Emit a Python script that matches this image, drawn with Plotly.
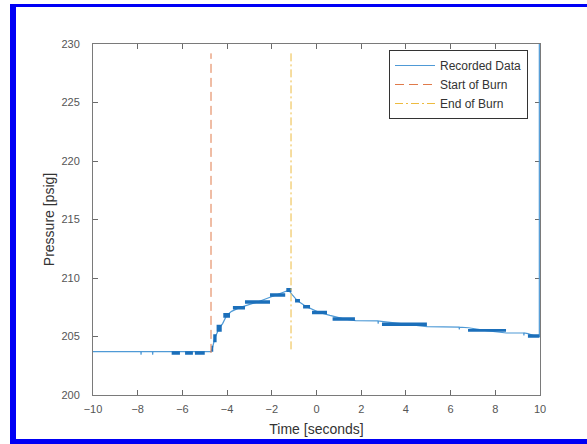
import plotly.graph_objects as go

# ---------------- data ----------------
# Recorded pressure trace (thin line through the step levels)
rec_t = [-10, -7.86, -7.85, -7.84, -7.34, -7.33, -7.32, -4.72, -4.66, -4.55, -4.36,
         -4.20, -4.02, -3.80, -3.47, -2.64, -1.74, -1.24, -1.10, -0.85, -0.45,
         0.13, 0.60, 1.22, 1.75, 2.75, 2.76, 2.77, 2.90, 3.90, 4.95, 6.38, 6.39,
         6.40, 6.80, 7.60, 8.50, 9.27, 9.28, 9.29, 9.46, 9.75, 9.97, 9.97]
rec_p = [203.7, 203.7, 203.45, 203.7, 203.7, 203.45, 203.7, 203.7, 204.0, 204.85,
         205.7, 206.1, 206.8, 207.15, 207.45, 207.95, 208.55, 208.95, 208.6, 208.05,
         207.55, 207.05, 206.8, 206.5, 206.35, 206.33, 206.1, 206.33, 206.3, 206.05,
         205.85, 205.8, 205.6, 205.8, 205.75, 205.5, 205.3, 205.3, 205.1, 205.3,
         205.25, 205.05, 205.0, 236.0]

# Dense sampling regions where the signal flickers between two levels
band_t0 = [-6.48, -5.88, -5.44, -4.70, -4.62, -4.47, -4.17, -3.74, -3.20, -2.08,
           -1.35, -0.96, -0.60, -0.20, 0.72, 2.93, 6.78, 9.46]
band_t1 = [-6.11, -5.53, -5.00, -4.62, -4.47, -4.24, -3.87, -3.20, -2.08, -1.40,
           -1.12, -0.74, -0.29, 0.47, 1.72, 4.94, 8.48, 9.97]
band_lo = [203.45, 203.45, 203.45, 203.7, 204.5, 205.4, 206.6, 207.3, 207.8, 208.4,
           208.8, 207.9, 207.4, 206.9, 206.35, 205.9, 205.4, 204.9]
band_hi = [203.75, 203.75, 203.75, 204.2, 205.2, 206.0, 207.0, 207.6, 208.1, 208.7,
           209.15, 208.2, 207.7, 207.2, 206.65, 206.2, 205.65, 205.2]

# Burn markers
start_burn_t = [-4.72, -4.72]
start_burn_p = [203.6, 229.2]
end_burn_t = [-1.14, -1.14]
end_burn_p = [203.9, 229.2]

x_ticks = [-10, -8, -6, -4, -2, 0, 2, 4, 6, 8, 10]
y_ticks = [200, 205, 210, 215, 220, 225, 230]

# ---------------- figure ----------------
W, H = 587, 444
ML, MR, MT, MB = 93, 47, 44, 49
PW, PH = W - ML - MR, H - MT - MB

def px_x(px):
    return (px - ML) / PW

def px_y(py):
    return (H - MB - py) / PH

FONT = "Liberation Sans, Arial"

fig = go.Figure()

fig.add_trace(go.Scatter(
    x=rec_t, y=rec_p, mode="lines", name="Recorded Data",
    line=dict(color="#4f9ad6", width=1.2)))

bx, by = [], []
for t0, t1, lo, hi in zip(band_t0, band_t1, band_lo, band_hi):
    bx += [t0, t1, t1, t0, t0, None]
    by += [lo, lo, hi, hi, lo, None]
fig.add_trace(go.Scatter(
    x=bx, y=by, mode="lines", fill="toself", fillcolor="#1b6fba",
    line=dict(width=0, color="#1b6fba"), showlegend=False, hoverinfo="skip"))

fig.add_trace(go.Scatter(
    x=start_burn_t, y=start_burn_p, mode="lines", name="Start of Burn",
    line=dict(color="#E07a4a", width=1, dash="9px,5px")))
fig.add_trace(go.Scatter(
    x=end_burn_t, y=end_burn_p, mode="lines", name="End of Burn",
    line=dict(color="#EDBB40", width=1, dash="8px,3px,2px,3px")))

axis_common = dict(
    showgrid=False, zeroline=False, showline=True, linecolor="#7a7a7a",
    linewidth=1, mirror="ticks", ticks="inside", ticklen=5, tickcolor="#6a6a6a",
    layer="below traces",
    tickfont=dict(family=FONT, size=11, color="#555555"))

fig.update_xaxes(range=[-10, 10], tickvals=x_ticks, **axis_common,
                 title=dict(text="Time [seconds]", standoff=9,
                            font=dict(family=FONT, size=14, color="#333333")),
                 ticklabelstandoff=4)
fig.update_yaxes(range=[200, 230], tickvals=y_ticks, **axis_common,
                 title=dict(text="Pressure [psig]", standoff=3,
                            font=dict(family=FONT, size=14, color="#333333")),
                 ticklabelstandoff=10)

blue = "#0000f5"
shapes = [
    dict(type="rect", xref="paper", yref="paper", x0=px_x(10), x1=px_x(16),
         y0=px_y(444), y1=px_y(4), fillcolor=blue, line=dict(width=0), layer="above"),
    dict(type="rect", xref="paper", yref="paper", x0=px_x(10), x1=px_x(587),
         y0=px_y(7), y1=px_y(4), fillcolor=blue, line=dict(width=0), layer="above"),
    dict(type="rect", xref="paper", yref="paper", x0=px_x(10), x1=px_x(587),
         y0=px_y(444), y1=px_y(439), fillcolor=blue, line=dict(width=0), layer="above"),
]

fig.update_layout(
    width=W, height=H, margin=dict(l=ML, r=MR, t=MT, b=MB, autoexpand=False),
    paper_bgcolor="white", plot_bgcolor="white",
    shapes=shapes,
    legend=dict(x=px_x(389), y=px_y(50), xanchor="left", yanchor="top",
                bgcolor="white", bordercolor="#333333", borderwidth=1,
                font=dict(family=FONT, size=12, color="#333333"),
                itemwidth=40, tracegroupgap=0),
    showlegend=True,
)

fig.write_html("out.html")
